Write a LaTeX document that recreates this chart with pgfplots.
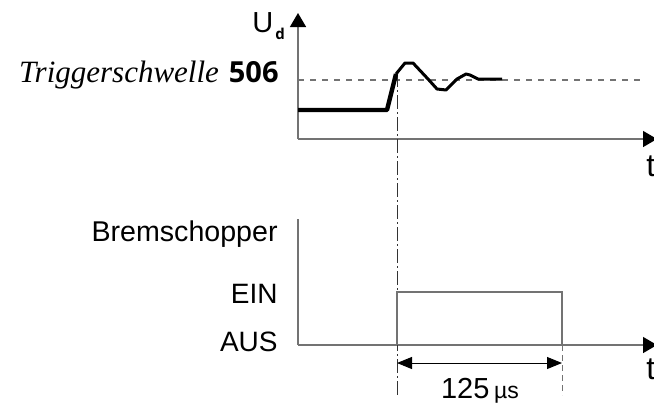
\documentclass[border=0pt]{standalone}
\usepackage{pgfplots}
\pgfplotsset{compat=1.18}
\usepackage{fontspec}
\setmainfont{Liberation Sans}
\newfontfamily\serifit{Liberation Serif}
\newfontfamily\opensans{Open Sans}
\usetikzlibrary{arrows.meta}
\colorlet{axgray}{black!55}
\begin{document}
\begin{tikzpicture}
\begin{axis}[scale only axis, width=327pt, height=201.5pt,
  xmin=0, xmax=654, ymin=0, ymax=403, y dir=reverse,
  hide axis, clip=false]
\coordinate (ll) at (axis cs:0,403);
\coordinate (ur) at (axis cs:654,0);
% axes
\draw[axgray, line width=0.75pt, -{Triangle[length=7pt,width=8pt,color=black]}] (axis cs:298,139) -- (axis cs:298,13);
\draw[axgray, line width=0.75pt, -{Triangle[length=7pt,width=8pt,color=black]}] (axis cs:298,139) -- (axis cs:657,139);
\draw[axgray, line width=0.75pt] (axis cs:298,219) -- (axis cs:298,345);
\draw[axgray, line width=0.75pt, -{Triangle[length=7pt,width=8pt,color=black]}] (axis cs:298,345) -- (axis cs:657,345);
% threshold
\addplot[axgray, line width=0.6pt, dash pattern=on 3pt off 3pt] coordinates {(298,80) (642,80)};
% trigger marker line
\addplot[black!80, line width=0.5pt, dash pattern=on 7pt off 1.5pt on 1pt off 1.5pt] coordinates {(397,73) (397,395)};
\addplot[axgray, line width=0.5pt, dash pattern=on 3pt off 2pt] coordinates {(562,345) (562,395)};
% chopper pulse
\addplot[axgray, line width=0.6pt] coordinates {(397,345) (397,292) (562,292) (562,345)};
% signal
\addplot[black, line width=2.2pt, line join=round] coordinates {(298,110) (387,110) (396,74)};
\addplot[black, line width=1.5pt, line join=round] coordinates {(396,74) (405,63) (413,63) (428,79) (437,89) (446,90) (457,79) (466,74) (470,75) (478,79) (502,79)};
% dimension
\draw[black, line width=0.5pt, {Triangle[length=7.5pt,width=6pt]}-{Triangle[length=7.5pt,width=6pt]}] (axis cs:397,363) -- (axis cs:562,363);
% labels
\node[anchor=base west, inner sep=0pt] at (axis cs:252,32) {\fontsize{14.5}{16}\selectfont U\kern1pt\raisebox{-0.5ex}{\opensans\bfseries\fontsize{7.5}{9}\selectfont d}};
\node[anchor=base east, inner sep=0pt] at (axis cs:279,82) {{\serifit\itshape\fontsize{15.5}{17}\selectfont Triggerschwelle}\hspace{5pt}{\opensans\bfseries\fontsize{14.5}{16}\selectfont 506}};
\node[anchor=base east, inner sep=0pt] at (axis cs:278,241) {\fontsize{14.3}{16}\selectfont Bremschopper};
\node[anchor=base east, inner sep=0pt] at (axis cs:278,303) {\fontsize{14}{16}\selectfont EIN};
\node[anchor=base east, inner sep=0pt] at (axis cs:278,351) {\fontsize{14}{16}\selectfont AUS};
\node[anchor=base west, inner sep=0pt] at (axis cs:646,176) {\fontsize{16}{18}\selectfont t};
\node[anchor=base west, inner sep=0pt] at (axis cs:646,379) {\fontsize{16}{18}\selectfont t};
\node[anchor=base, inner sep=0pt] at (axis cs:480,398) {\fontsize{14.5}{16}\selectfont 125\,{\fontsize{11.5}{13}\selectfont µs}};
\end{axis}
\pgfresetboundingbox
\path (ll) rectangle (ur);
\end{tikzpicture}
\end{document}
